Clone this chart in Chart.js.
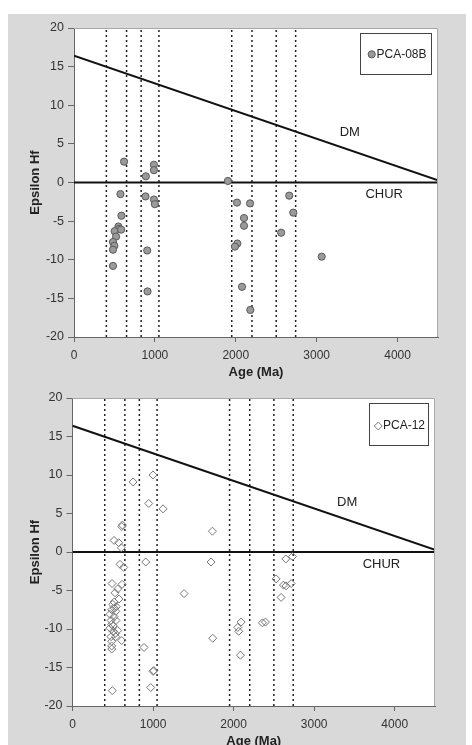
<!DOCTYPE html>
<html>
<head>
<meta charset="utf-8">
<script src="https://cdn.jsdelivr.net/npm/chart.js@4.4.0/dist/chart.umd.min.js"></script>
<style>
html, body { margin:0; padding:0; width:472px; height:745px; overflow:hidden; background:#fff; }
#bg { position:absolute; left:8px; top:14px; width:458px; height:731px; background:#d9d9d9; }
#c1 { position:absolute; left:8px; top:14px; }
#c2 { position:absolute; left:8px; top:381px; }
</style>
</head>
<body>
<div id="bg"></div>
<canvas id="c1" width="458" height="367"></canvas>
<canvas id="c2" width="458" height="369"></canvas>
<script>
// PCA-08B (gray circles)
var pca08bAge = [619, 888, 988, 988, 1903, 574, 884, 988, 1000, 586, 549, 557, 503, 583, 520, 482, 499, 482, 482,
                 905, 909, 2015, 2176, 2102, 2102, 2019, 1990, 2077, 2180, 2661, 2711, 2561, 3062];
var pca08bEps = [2.7, 0.8, 2.3, 1.6, 0.2, -1.5, -1.8, -2.2, -2.8, -4.3, -5.7, -6.0, -6.3, -6.1, -7.0, -7.7, -8.2, -8.7, -10.8,
                 -8.8, -14.1, -2.6, -2.7, -4.6, -5.6, -7.9, -8.3, -13.5, -16.5, -1.7, -3.9, -6.5, -9.6];

// PCA-12 (open diamonds)
var pca12Age = [752, 1000, 946, 1124, 619, 612, 516, 574, 606, 1737, 590, 636, 909, 1720, 2648, 2730, 2528, 2619, 2650, 2714,
                2590, 1385, 1741, 2052, 2064, 2093, 2085, 2358, 2395, 888, 1009, 1000, 971, 494, 615, 611,
                491, 528, 561, 578, 516, 544, 487, 537, 466, 516, 478, 540, 487, 466, 507, 561, 478, 537, 487, 487, 487,
                500, 520, 505, 530];
var pca12Eps = [9.1, 10.0, 6.3, 5.6, 3.5, 3.3, 1.5, 1.2, 0.55, 2.7, -1.6, -2.0, -1.3, -1.3, -0.9, -0.6, -3.5, -4.3, -4.4, -4.1,
                -5.9, -5.4, -11.2, -9.8, -10.3, -9.1, -13.4, -9.2, -9.1, -12.4, -15.4, -15.5, -17.6, -18.0, -4.2, -11.5,
                -4.1, -5.3, -4.8, -6.1, -6.5, -7.1, -7.5, -7.7, -8.1, -8.4, -8.9, -8.9, -9.4, -9.9, -10.3, -10.2, -11.0, -11.0, -11.6, -12.2, -12.6,
                -6.8, -7.3, -9.6, -10.6];

// reference curves and age boundaries
var dmAge = [0, 4500], dmEps = [16.4, 0.3];
var churAge = [0, 4500], churEps = [0, 0];
var boundaryAges = [400, 650, 830, 1050, 1950, 2200, 2500, 2740];
var curveNames = ['DM', 'CHUR'], curveNameAge = [3410, 3835], curveNameEps = [6.5, -1.6];
var ageTicks = [0, 1000, 2000, 3000, 4000];

Chart.defaults.font.family = '"Liberation Sans", Arial, sans-serif';

function toXY(xs, ys) {
    return xs.map((x,i)=>({x:x, y:ys[i]}));
}

function drawMarker(ctx, style, x, y, r) {
    ctx.beginPath();
    if (style === 'circle') {
        ctx.arc(x, y, r, 0, 2*Math.PI);
    } else {
        ctx.moveTo(x, y-r); ctx.lineTo(x+r, y); ctx.lineTo(x, y+r); ctx.lineTo(x-r, y); ctx.closePath();
    }
    ctx.fill();
    ctx.stroke();
}

var ehfPlugin = {
    id: 'ehf',
    beforeDraw: function(chart) {
        var a = chart.chartArea, ctx = chart.ctx;
        ctx.save();
        ctx.fillStyle = '#fff';
        ctx.fillRect(a.left, a.top, a.right-a.left, a.bottom-a.top);
        ctx.restore();
    },
    afterDraw: function(chart, args, o) {
        var ctx = chart.ctx, a = chart.chartArea, xs = chart.scales.x, ys = chart.scales.y;
        ctx.save();
        // top and right frame
        ctx.strokeStyle = '#a8a8a8';
        ctx.lineWidth = 1;
        ctx.beginPath();
        ctx.moveTo(a.left, a.top+0.5);
        ctx.lineTo(a.right-0.5, a.top+0.5);
        ctx.lineTo(a.right-0.5, a.bottom);
        ctx.stroke();
        // DM / CHUR labels
        ctx.font = '13px "Liberation Sans", Arial';
        ctx.fillStyle = '#222';
        ctx.textAlign = 'center';
        ctx.textBaseline = 'middle';
        curveNames.forEach(function(n,i){
            ctx.fillText(n, xs.getPixelForValue(curveNameAge[i]), ys.getPixelForValue(curveNameEps[i]));
        });
        // legend box
        var ds = chart.data.datasets[0];
        var bx = a.right - o.right - o.w, by = a.top + o.top;
        ctx.fillStyle = '#fff';
        ctx.fillRect(bx, by, o.w, o.h);
        ctx.strokeStyle = '#444';
        ctx.strokeRect(bx+0.5, by+0.5, o.w, o.h);
        ctx.fillStyle = ds.pointBackgroundColor;
        ctx.strokeStyle = ds.pointBorderColor;
        drawMarker(ctx, ds.pointStyle === 'circle' ? 'circle' : 'diamond', bx+o.mx, by+o.my, ds.pointRadius);
        ctx.font = '12px "Liberation Sans", Arial';
        ctx.fillStyle = '#222';
        ctx.textAlign = 'left';
        ctx.fillText(ds.label, bx+o.tx, by+o.my);
        ctx.restore();
    }
};

function buildChart(id, cfg) {
    var datasets = [{
        label: cfg.label,
        data: toXY(cfg.ages, cfg.eps),
        showLine: false,
        pointStyle: cfg.pointStyle,
        pointRadius: cfg.radius,
        pointBackgroundColor: cfg.fill,
        pointBorderColor: cfg.stroke,
        pointBorderWidth: 1
    }, {
        label: 'DM',
        data: toXY(dmAge, dmEps),
        showLine: true, borderColor: '#111', borderWidth: 2, pointRadius: 0
    }, {
        label: 'CHUR',
        data: toXY(churAge, churEps),
        showLine: true, borderColor: '#111', borderWidth: 2, pointRadius: 0
    }];
    boundaryAges.forEach(function(a){
        datasets.push({
            label: '',
            data: [{x:a, y:-20}, {x:a, y:20}],
            showLine: true, borderColor: '#222', borderWidth: 1.5, borderDash: [2,3], pointRadius: 0
        });
    });
    return new Chart(document.getElementById(id), {
        type: 'scatter',
        data: {datasets: datasets},
        plugins: [ehfPlugin],
        options: {
            responsive: false,
            animation: false,
            devicePixelRatio: 1,
            layout: {padding: {top: cfg.top, right: cfg.right, left: 0, bottom: 0}},
            plugins: {
                legend: {display: false},
                tooltip: {enabled: false},
                ehf: cfg.legend
            },
            scales: {
                x: {
                    type: 'linear', min: 0, max: 4500,
                    afterFit: function(s){ s.height = 44; },
                    afterBuildTicks: function(s){ s.ticks = ageTicks.map(v=>({value:v})); },
                    ticks: {padding: 6, color: '#333', font: {size: 12}, maxRotation: 0,
                            callback: function(v){ return String(v); }},
                    grid: {drawOnChartArea: false, drawTicks: true, tickLength: 5, color: '#666'},
                    border: {color: '#666'},
                    title: {display: true, text: 'Age (Ma)', color: '#222', font: {size: 13, weight: 'bold'}, padding: {top: 0, bottom: 1}}
                },
                y: {
                    type: 'linear', min: -20, max: 20,
                    afterFit: function(s){ s.width = cfg.axisW; },
                    ticks: {stepSize: 5, padding: 4, color: '#333', font: {size: 12.5},
                            callback: function(v){ return String(v); }},
                    grid: {drawOnChartArea: false, drawTicks: true, tickLength: 6, color: '#666'},
                    border: {color: '#666'},
                    title: {display: true, text: 'Epsilon Hf', color: '#222', font: {size: 13, weight: 'bold'}, padding: {top: 20, bottom: 0}}
                }
            }
        }
    });
}

window.onload = function(){
    buildChart('c1', {
        label: 'PCA-08B', ages: pca08bAge, eps: pca08bEps,
        pointStyle: 'circle', radius: 3.6, fill: '#9a9a9a', stroke: '#5a5a5a',
        top: 14, right: 28, axisW: 66,
        legend: {right: 7, top: 5, w: 71, h: 41, mx: 11.7, my: 21.3, tx: 16.5}
    });
    buildChart('c2', {
        label: 'PCA-12', ages: pca12Age, eps: pca12Eps,
        pointStyle: 'rectRot', radius: 4, fill: 'rgba(0,0,0,0)', stroke: '#777',
        top: 17, right: 31, axisW: 64.5,
        legend: {right: 7, top: 5, w: 59, h: 42, mx: 9.3, my: 23, tx: 14}
    });
};
</script>
</body>
</html>
